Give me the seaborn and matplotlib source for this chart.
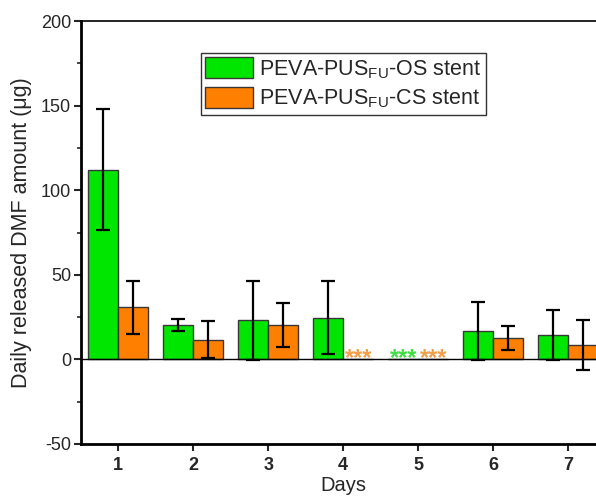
import matplotlib
matplotlib.use("Agg")
import matplotlib.pyplot as plt
import seaborn as sns
import pandas as pd
import numpy as np
from matplotlib.ticker import MultipleLocator

days = ["1", "2", "3", "4", "5", "6", "7"]
series_names = [r"PEVA-PUS$_{\mathrm{FU}}$-OS stent", r"PEVA-PUS$_{\mathrm{FU}}$-CS stent"]
os_values = [112.2, 20.4, 23.0, 24.7, 0.0, 16.9, 14.5]
os_errors = [36.0, 3.6, 23.2, 21.6, 0.0, 17.0, 14.7]
cs_values = [30.8, 11.6, 20.4, 0.0, 0.0, 12.7, 8.4]
cs_errors = [15.8, 11.0, 13.0, 0.0, 0.0, 7.3, 14.6]
star_marks = [("3", 1, "***"), ("4", 0, "***"), ("4", 1, "***")]  # (day index, series, text)

colors = ["#00E600", "#FF8000"]
star_colors = ["#40DE40", "#F2A048"]

sns.set_theme(style="white")
plt.rcParams["font.family"] = ["Liberation Sans", "DejaVu Sans"]
plt.rcParams["mathtext.fontset"] = "custom"
plt.rcParams["mathtext.rm"] = "Liberation Sans"
plt.rcParams["mathtext.it"] = "Liberation Sans:italic"
plt.rcParams["mathtext.bf"] = "Liberation Sans:bold"
plt.rcParams["axes.unicode_minus"] = False

df = pd.DataFrame({
    "Days": days * 2,
    "value": os_values + cs_values,
    "series": [series_names[0]] * len(days) + [series_names[1]] * len(days),
})

fig = plt.figure(figsize=(5.96, 4.97), dpi=100)
ax = fig.add_axes([80.7 / 596, 53 / 497, 525 / 596, 423 / 497])

sns.barplot(data=df, x="Days", y="value", hue="series", hue_order=series_names,
            palette=colors, width=0.8, errorbar=None, edgecolor="#383838",
            linewidth=1.0, saturation=1.0, ax=ax)

bar_containers = list(ax.containers)
errs = [os_errors, cs_errors]
for ci, cont in enumerate(bar_containers):
    for bi, patch in enumerate(cont.patches):
        e = errs[ci][bi]
        if e > 0:
            xc = patch.get_x() + patch.get_width() / 2
            ax.errorbar(xc, patch.get_height(), yerr=e, color="black",
                        lw=1.6, capsize=5, capthick=1.6, zorder=5)

for di, si, txt in star_marks:
    cont = bar_containers[si]
    patch = cont.patches[int(di)]
    xc = patch.get_x() + patch.get_width() / 2
    ax.text(xc, -3.5, txt, color=star_colors[si], fontsize=17, fontweight="bold",
            ha="center", va="baseline", zorder=6)

ax.axhline(0, color="black", lw=1.0, zorder=4)
ax.set_xlim(-0.5, 6.5)
ax.set_ylim(-50, 200)
ax.yaxis.set_major_locator(MultipleLocator(50))
ax.yaxis.set_minor_locator(MultipleLocator(25))

for s in ["left", "bottom"]:
    ax.spines[s].set_linewidth(2.0)
    ax.spines[s].set_color("black")
ax.spines["top"].set_linewidth(1.2)
ax.spines["top"].set_color("black")
ax.spines["right"].set_visible(False)

ax.tick_params(axis="y", which="major", direction="out", length=5, width=1.5,
               labelsize=13, left=True, pad=2)
ax.tick_params(axis="y", which="minor", direction="out", length=3, width=1.2, left=True)
ax.tick_params(axis="x", which="major", direction="out", length=5, width=1.5,
               labelsize=13, bottom=True, pad=4)
for lab in ax.get_xticklabels():
    lab.set_fontweight("bold")

ax.set_xlabel("Days", fontsize=14.5, va="top")
ax.xaxis.set_label_coords(0.5, -0.075)
ax.set_ylabel("Daily released DMF amount (\u03bcg)", fontsize=15.5, labelpad=6)

leg = ax.legend(loc="upper left", bbox_to_anchor=(0.229, 0.924), borderaxespad=0,
                fontsize=15.5, frameon=True, fancybox=False, edgecolor="black",
                handlelength=2.2, handleheight=1.1, handletextpad=0.3,
                labelspacing=0.3, borderpad=0.2)
leg.get_frame().set_linewidth(1.0)
leg.set_title(None)

fig.savefig("out.png", dpi=100)
